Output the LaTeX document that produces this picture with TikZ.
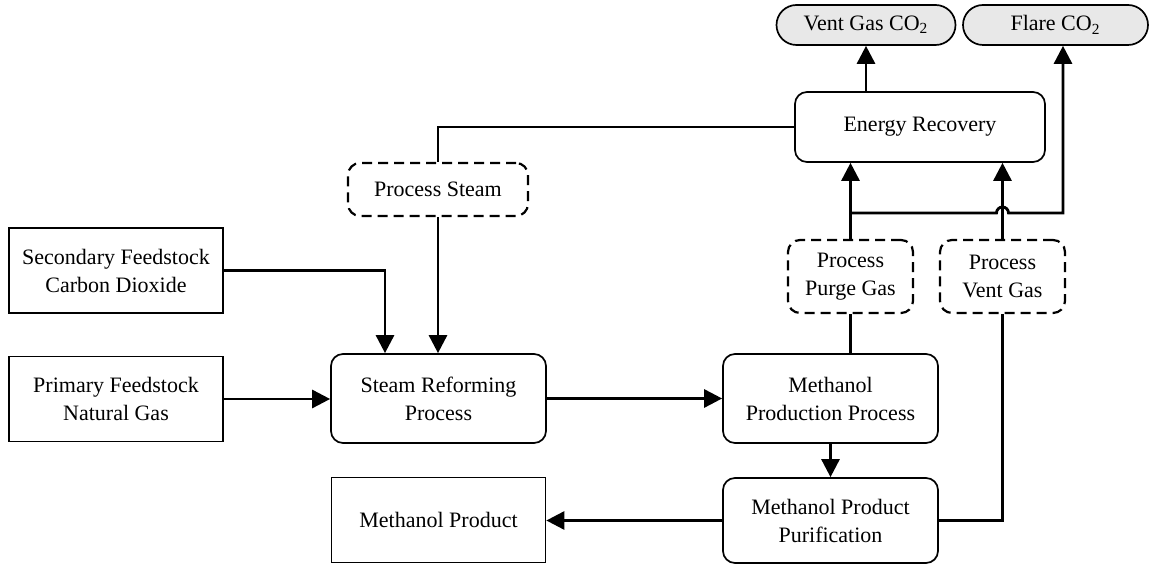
\documentclass[tikz,border=0pt]{standalone}
\usepackage{fontspec}
\setmainfont{LiberationSerif}[Extension=.ttf,UprightFont=*-Regular,BoldFont=*-Bold,ItalicFont=*-Italic,BoldItalicFont=*-BoldItalic]
\usetikzlibrary{arrows.meta}

\begin{document}
\begin{tikzpicture}[x=0.5pt,y=-0.5pt,
  every node/.style={font=\fontsize{11}{14}\selectfont,align=center,inner sep=0pt,line width=0.85pt},
  feed/.style={draw,minimum width=107pt,minimum height=42.5pt},
  unit/.style={draw,rounded corners=6pt,minimum width=107.5pt,minimum height=44.5pt},
  stream/.style={draw,dash pattern=on 5pt off 3pt,line width=1.1pt,rounded corners=6pt},
  emis/.style={draw,fill=gray!18,rounded corners=10pt,minimum height=20pt},
  arr/.style={line width=1.4pt,-{Triangle[length=9pt,width=9pt]}},
  link/.style={line width=1.4pt}]
\useasboundingbox (0,0) rectangle (1151,565);

% emissions
\node[emis,minimum width=89.5pt] (vent) at (866,25) {Vent Gas CO\textsubscript{2}};
\node[emis,minimum width=92.5pt] (flare) at (1055.5,25) {Flare CO\textsubscript{2}};
\node[unit,minimum width=125pt,minimum height=35pt] (energy) at (920,127) {Energy Recovery};

% streams
\node[stream,minimum width=90pt,minimum height=26.5pt] (steam) at (438,189.5) {Process Steam};
\node[stream,minimum width=62.5pt,minimum height=36.5pt] (purge) at (850.5,276.5) {Process\\Purge Gas};
\node[stream,minimum width=62.5pt,minimum height=36.5pt] (ventgas) at (1002.5,276.5) {Process\\Vent Gas};

% feedstocks and units
\node[feed] (second) at (116,270.5) {Secondary Feedstock\\Carbon Dioxide};
\node[feed] (primary) at (116,399) {Primary Feedstock\\Natural Gas};
\node[unit] (reform) at (438.5,398.5) {Steam Reforming\\Process};
\node[unit] (mpp) at (830.5,398.5) {Methanol\\Production Process};
\node[unit,minimum height=42.5pt] (purif) at (830.5,520.5) {Methanol Product\\Purification};
\node[feed] (product) at (438.5,520) {Methanol Product};

\coordinate (fj) at (1063,213);

% connectors
\draw[arr] (vent.south |- energy.north) -- (vent.south);
\draw[arr] (purge.north) -- (purge.north |- energy.south);
\draw[arr] (ventgas.north) -- (ventgas.north |- energy.south);
\draw[arr] (purge.north |- fj) -- ([xshift=-3pt]ventgas.north |- fj) arc (180:360:6) -- (fj) -- (fj |- flare.south);
\draw[link] (steam.north) |- (energy.west);
\draw[arr] (steam.south) -- (steam.south |- reform.north);
\draw[arr] (second.east) -| ([xshift=-26.75pt]reform.north);
\draw[arr] (primary.east) -- (primary.east -| reform.west);
\draw[arr] (reform.east) -- (mpp.west);
\draw[link] (purge.south) -- (purge.south |- mpp.north);
\draw[arr] (mpp.south) -- (purif.north);
\draw[link] (purif.east) -| (ventgas.south);
\draw[arr] (purif.west) -- (purif.west -| product.east);
\end{tikzpicture}
\end{document}
